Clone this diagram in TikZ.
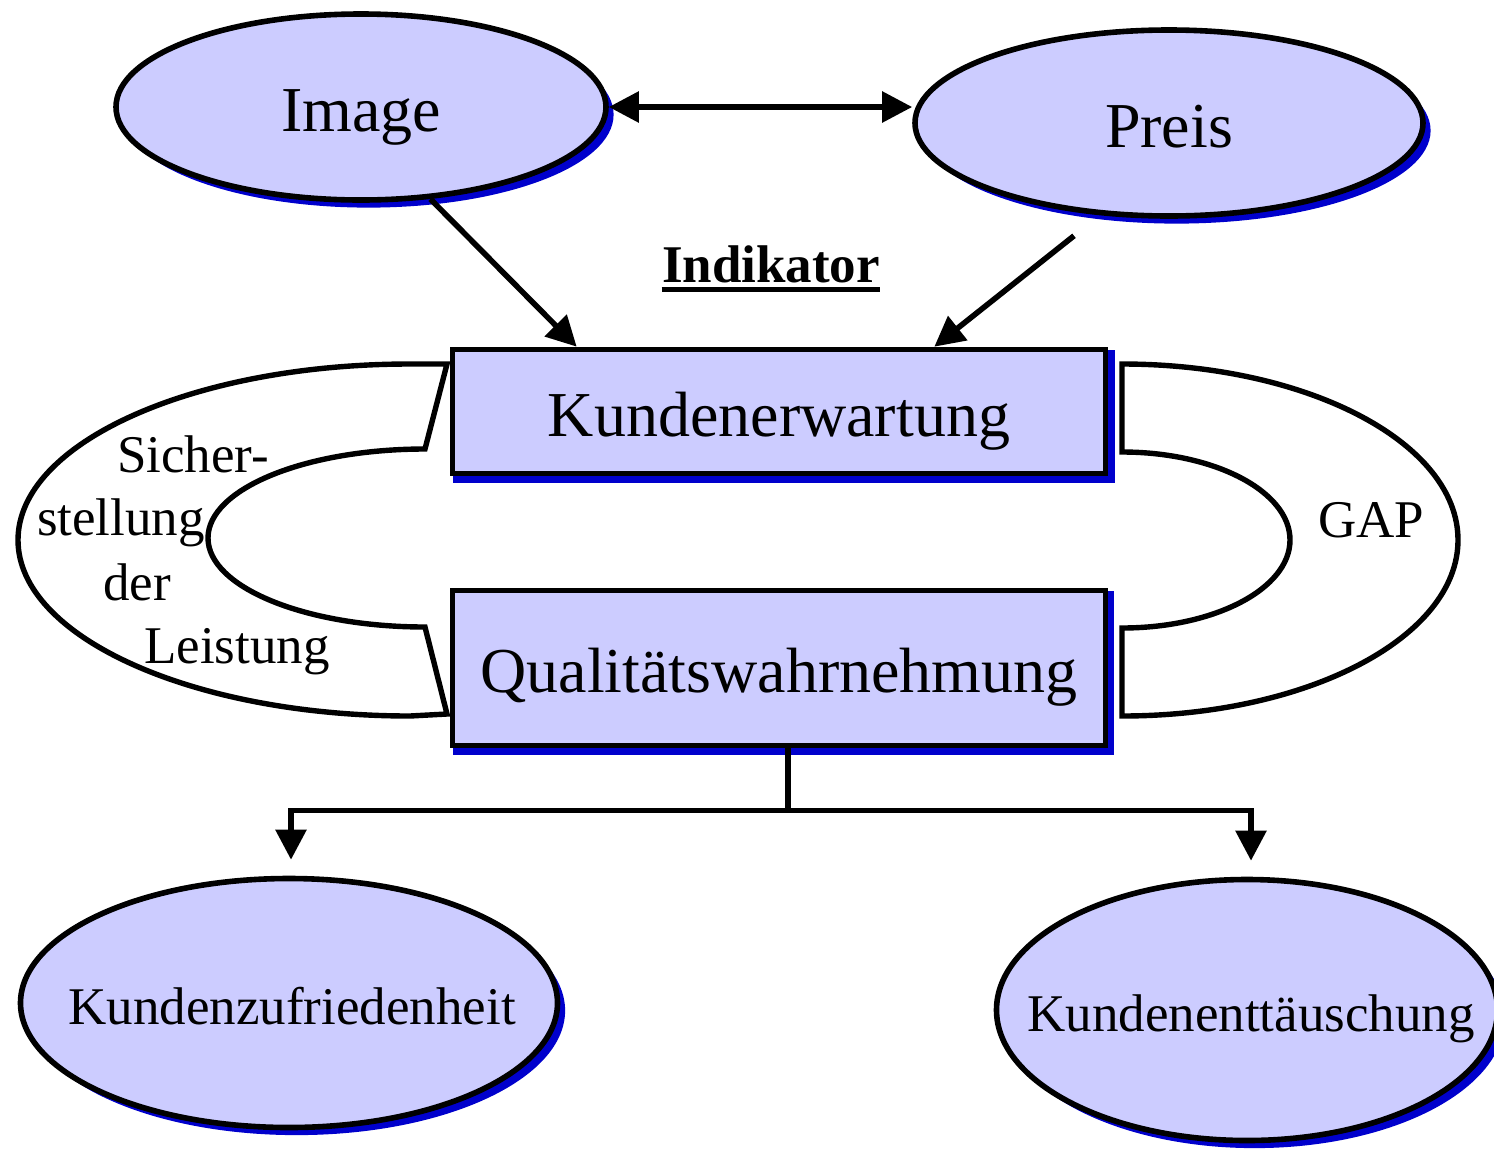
\documentclass[tikz,border=0pt]{standalone}
\usepackage{fontspec}
\setmainfont{Liberation Serif}
\usetikzlibrary{arrows.meta,shapes.geometric,shadows,backgrounds}
\definecolor{nodefill}{RGB}{204,204,255}
\definecolor{shadowblue}{RGB}{0,0,204}
\begin{document}
\begin{tikzpicture}[x=0.5pt,y=-0.5pt,
  bubble/.style={ellipse, draw, line width=2.8pt, fill=nodefill, inner sep=0pt, text depth=0pt,
    drop shadow={shadow xshift=3.8pt, shadow yshift=-3.8pt, fill=shadowblue, opacity=1}},
  box/.style={rectangle, draw, line width=2.8pt, fill=nodefill, inner sep=0pt, text depth=0pt},
  big/.style={font=\fontsize{32}{37}\selectfont, text height=24.5pt},
  small/.style={font=\fontsize{26.5}{31}\selectfont, text height=21.5pt},
  lab/.style={font=\fontsize{26.5}{31}\selectfont, inner sep=0pt, anchor=base},
  band/.style={draw, line width=2.7pt, line join=miter},
  link/.style={line width=2.8pt},
  tip/.style={-{Triangle[length=15pt,width=15pt]}},
  twotips/.style={{Triangle[length=15pt,width=15pt]}-{Triangle[length=15pt,width=15pt]}},
]
\useasboundingbox (0,0) rectangle (1494,1152);

% upper drivers
\node[bubble, big, minimum width=245pt, minimum height=93pt] (img) at (361,107) {Image};
\node[bubble, big, minimum width=254pt, minimum height=93pt] (preis) at (1169,123) {Preis};

% central boxes
\node[box, big, minimum width=326.5pt, minimum height=62pt] (ke) at (779,411.5) {Kundenerwartung};
\node[box, big, minimum width=326.5pt, minimum height=77.5pt] (qw) at (779,668) {Qualitätswahrnehmung};

% outcomes
\node[bubble, small, minimum width=268.5pt, minimum height=124.5pt] (kz) at (289,1003)
  {\makebox[0pt]{\hspace{3pt}Kundenzufriedenheit}};
\node[bubble, small, minimum width=250.5pt, minimum height=130.5pt] (kt) at (1247,1010)
  {\makebox[0pt]{\hspace{4pt}Kundenenttäuschung}};

% box shadows
\begin{pgfonlayer}{background}
  \fill[shadowblue] ([xshift=1.5pt,yshift=-1.5pt]ke.north west) rectangle ([xshift=3.5pt,yshift=-3.5pt]ke.south east);
  \fill[shadowblue] ([xshift=1.5pt,yshift=-1.5pt]qw.north west) rectangle ([xshift=3pt,yshift=-3.5pt]qw.south east);
\end{pgfonlayer}

% left band
\draw[band] (447,364) -- (410,364)
  arc[start angle=90, end angle=270, x radius=196pt, y radius=88pt]
  -- (447,714) -- (425,627)
  arc[start angle=270, end angle=90, x radius=108.5pt, y radius=44.5pt]
  -- cycle;

% right band
\draw[band] (1122,364) -- (1122,452)
  arc[start angle=90, end angle=-90, x radius=84pt, y radius=44pt]
  -- (1122,716)
  arc[start angle=-90, end angle=90, x radius=168pt, y radius=88pt]
  -- cycle;

% band labels
\node[lab] (l1) at (193,472) {Sicher-};
\node[lab] (l2) at (121,535) {stellung};
\node[lab] (l3) at (137,600) {der};
\node[lab] (l4) at (237,663) {Leistung};
\node[lab] (gap) at (1371,537) {GAP};

% heading
\node[lab, font=\fontsize{26.5}{31}\selectfont\bfseries] (ind) at (771,282) {Indikator};
\draw[line width=2.2pt] ([yshift=-3.75pt]ind.base west) -- ([yshift=-3.75pt]ind.base east);

% connectors
\draw[link, twotips] (img.east) -- (img.east -| preis.west);
\draw[link, tip] (img.-53) -- ([xshift=63.5pt]ke.north west);
\coordinate (pfoot) at ([xshift=-47.5pt,yshift=-8.5pt]preis.south);
\draw[link, tip] (pfoot) -- ([xshift=-87pt]ke.north east);

\coordinate (fork) at ([xshift=4.5pt,yshift=-31pt]qw.south);
\draw[link] ([xshift=4.5pt]qw.south) -- (fork);
\draw[link, tip] (fork) -| ([xshift=1pt,yshift=8pt]kz.north);
\draw[link, tip] (fork) -| ([xshift=2pt,yshift=8pt]kt.north);
\end{tikzpicture}
\end{document}
